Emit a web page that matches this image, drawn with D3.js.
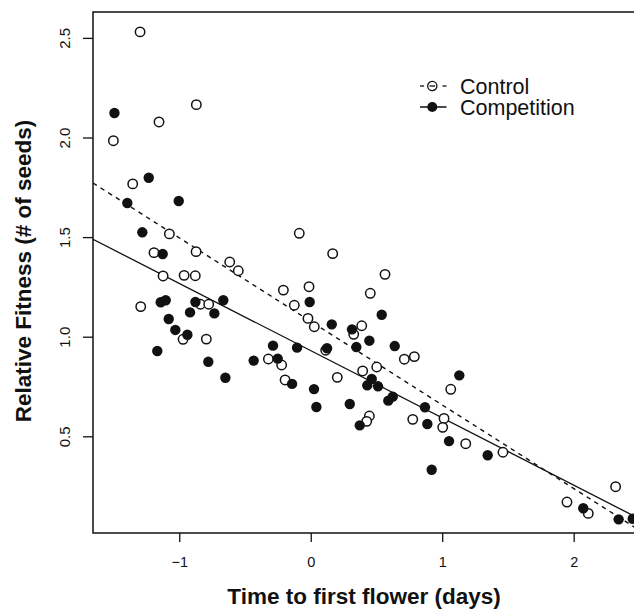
<!DOCTYPE html>
<html>
<head>
<meta charset="utf-8">
<script src="https://cdn.jsdelivr.net/npm/d3@7"></script>
<style>
  body { margin: 0; background: #fff; }
  svg text { font-family: "Liberation Sans", Arial, Helvetica, sans-serif; fill: #111; }
</style>
</head>
<body>
<svg id="chart" width="634" height="609"></svg>
<script>
// [time to first flower, relative fitness]
const control = [
  [-1.298, 2.530], [-1.501, 1.984], [-1.154, 2.078], [-0.870, 2.165], [-1.354, 1.767],
  [-1.075, 1.516], [-0.087, 1.519], [-1.192, 1.422], [-0.872, 1.427], [-0.616, 1.375],
  [-0.551, 1.331], [-1.123, 1.305], [-0.963, 1.308], [-0.878, 1.306], [-0.208, 1.234],
  [-0.013, 1.251], [-1.293, 1.151], [-0.839, 1.163], [-0.776, 1.163], [-0.971, 0.987],
  [-0.794, 0.988], [-0.125, 1.158], [0.453, 1.218], [-0.021, 1.092], [0.027, 1.050],
  [0.388, 1.055], [0.327, 1.012], [0.114, 0.932], [-0.322, 0.888], [-0.221, 0.858],
  [0.712, 0.887], [0.788, 0.900], [0.395, 0.828], [0.502, 0.848], [-0.195, 0.783],
  [0.202, 0.796], [0.446, 0.602], [0.426, 0.575], [0.776, 0.585], [0.167, 1.417],
  [0.565, 1.313], [1.065, 0.736], [1.014, 0.590], [1.004, 0.545], [1.179, 0.463],
  [1.462, 0.420], [2.319, 0.247], [1.949, 0.170], [2.111, 0.113]
];
const competition = [
  [-1.493, 2.123], [-1.232, 1.798], [-1.395, 1.671], [-1.004, 1.681], [-1.281, 1.524],
  [-1.126, 1.415], [-1.141, 1.173], [-1.103, 1.183], [-0.877, 1.174], [-0.665, 1.183],
  [-0.918, 1.122], [-0.733, 1.117], [-1.080, 1.089], [-1.030, 1.034], [-0.938, 1.010],
  [-1.167, 0.928], [-0.779, 0.874], [-0.434, 0.880], [-0.649, 0.794], [-0.008, 1.174],
  [0.540, 1.110], [0.160, 1.062], [0.314, 1.037], [0.446, 0.980], [0.639, 0.953],
  [-0.287, 0.955], [-0.104, 0.945], [0.124, 0.942], [0.347, 0.948], [-0.251, 0.890],
  [-0.142, 0.763], [0.464, 0.788], [0.430, 0.756], [0.512, 0.751], [0.025, 0.737],
  [0.624, 0.699], [0.590, 0.679], [0.043, 0.647], [0.297, 0.662], [0.373, 0.555],
  [0.869, 0.646], [1.130, 0.806], [0.887, 0.562], [1.052, 0.476], [1.346, 0.405],
  [0.920, 0.332], [2.073, 0.139], [2.342, 0.083], [2.449, 0.086]
];
// fitted lines: [intercept, slope]
const controlFit = [1.077, -0.4195];
const competitionFit = [0.930, -0.3376];

const xTicks = [-1, 0, 1, 2];
const xTickLabels = ["\u22121", "0", "1", "2"];
const yTicks = [0.5, 1.0, 1.5, 2.0, 2.5];
const yTickLabels = ["0.5", "1.0", "1.5", "2.0", "2.5"];
const legendLabels = ["Control", "Competition"];

const svg = d3.select("#chart");
const plotLeft = 93, plotRight = 636, plotTop = 12, plotBottom = 533;

const x = d3.scaleLinear().domain([-1.656, 2.474]).range([plotLeft, plotRight]);
const y = d3.scaleLinear().domain([0.0146, 2.63]).range([plotBottom, plotTop]);

svg.append("clipPath").attr("id", "plotclip")
    .append("rect")
    .attr("x", plotLeft).attr("y", plotTop)
    .attr("width", plotRight - plotLeft).attr("height", plotBottom - plotTop);

// fitted lines
const fitLine = (fit) => {
    const d = x.domain();
    return d3.line().x(p => x(p[0])).y(p => y(p[1]))(d.map(v => [v, fit[0] + fit[1] * v]));
};
svg.append("path")
    .attr("d", fitLine(controlFit))
    .attr("clip-path", "url(#plotclip)")
    .attr("fill", "none").attr("stroke", "#111")
    .attr("stroke-width", 1.4).attr("stroke-dasharray", "4.5,4.5");
svg.append("path")
    .attr("d", fitLine(competitionFit))
    .attr("clip-path", "url(#plotclip)")
    .attr("fill", "none").attr("stroke", "#111")
    .attr("stroke-width", 1.3);

// points
svg.append("g").selectAll("circle")
    .data(control)
    .enter().append("circle")
    .attr("cx", d => x(d[0]))
    .attr("cy", d => y(d[1]))
    .attr("r", 4.7)
    .attr("fill", "#fff")
    .attr("stroke", "#111")
    .attr("stroke-width", 1.5);
svg.append("g").selectAll("circle")
    .data(competition)
    .enter().append("circle")
    .attr("cx", d => x(d[0]))
    .attr("cy", d => y(d[1]))
    .attr("r", 5.2)
    .attr("fill", "#111");

// frame
svg.append("rect")
    .attr("x", plotLeft).attr("y", plotTop)
    .attr("width", plotRight - plotLeft).attr("height", plotBottom - plotTop)
    .attr("fill", "none").attr("stroke", "#111").attr("stroke-width", 1.5);

// axes
const xAxis = svg.append("g")
    .attr("transform", `translate(0,${plotBottom})`)
    .call(d3.axisBottom(x).tickValues(xTicks).tickSize(9).tickPadding(15)
        .tickFormat((d, i) => xTickLabels[i]));
xAxis.select(".domain").remove();
xAxis.selectAll("line").attr("stroke", "#111").attr("stroke-width", 1.3);
xAxis.selectAll("text").style("font-size", "14.5px").attr("fill", "#111");

const yAxis = svg.append("g")
    .attr("transform", `translate(${plotLeft},0)`)
    .call(d3.axisLeft(y).tickValues(yTicks).tickSize(10)
        .tickFormat((d, i) => yTickLabels[i]));
yAxis.select(".domain").remove();
yAxis.selectAll("line").attr("stroke", "#111").attr("stroke-width", 1.3);
yAxis.selectAll("text")
    .attr("x", null).attr("dy", null)
    .attr("text-anchor", "middle")
    .attr("transform", "translate(-23,0) rotate(-90)")
    .attr("y", 0)
    .style("font-size", "15px").attr("fill", "#111");

// axis titles
svg.append("text")
    .attr("x", 364).attr("y", 604)
    .attr("text-anchor", "middle")
    .style("font-size", "22.5px").style("font-weight", "bold")
    .text("Time to first flower (days)");
svg.append("text")
    .attr("transform", "translate(31,271) rotate(-90)")
    .attr("text-anchor", "middle")
    .style("font-size", "22.5px").style("font-weight", "bold")
    .text("Relative Fitness (# of seeds)");

// legend
const legend = svg.append("g").attr("transform", "translate(420,86)");
legendLabels.forEach((label, i) => {
    const g = legend.append("g").attr("transform", `translate(0,${i * 21})`);
    if (i === 0) {
        [[0, 4], [9.5, 15], [22.5, 26.5]].forEach(s => {
            g.append("line").attr("x1", s[0]).attr("x2", s[1]).attr("y1", 0).attr("y2", 0)
                .attr("stroke", "#111").attr("stroke-width", 1.3);
        });
        g.append("circle").attr("cx", 12.3).attr("cy", 0).attr("r", 4.6)
            .attr("fill", "none").attr("stroke", "#111").attr("stroke-width", 1.3);
    } else {
        g.append("line").attr("x1", 0).attr("x2", 26.5).attr("y1", 0).attr("y2", 0)
            .attr("stroke", "#111").attr("stroke-width", 1.5);
        g.append("circle").attr("cx", 12.3).attr("cy", 0).attr("r", 5)
            .attr("fill", "#111");
    }
    g.append("text").attr("x", 40).attr("y", 8)
        .style("font-size", "21.5px")
        .text(label);
});
</script>
</body>
</html>
